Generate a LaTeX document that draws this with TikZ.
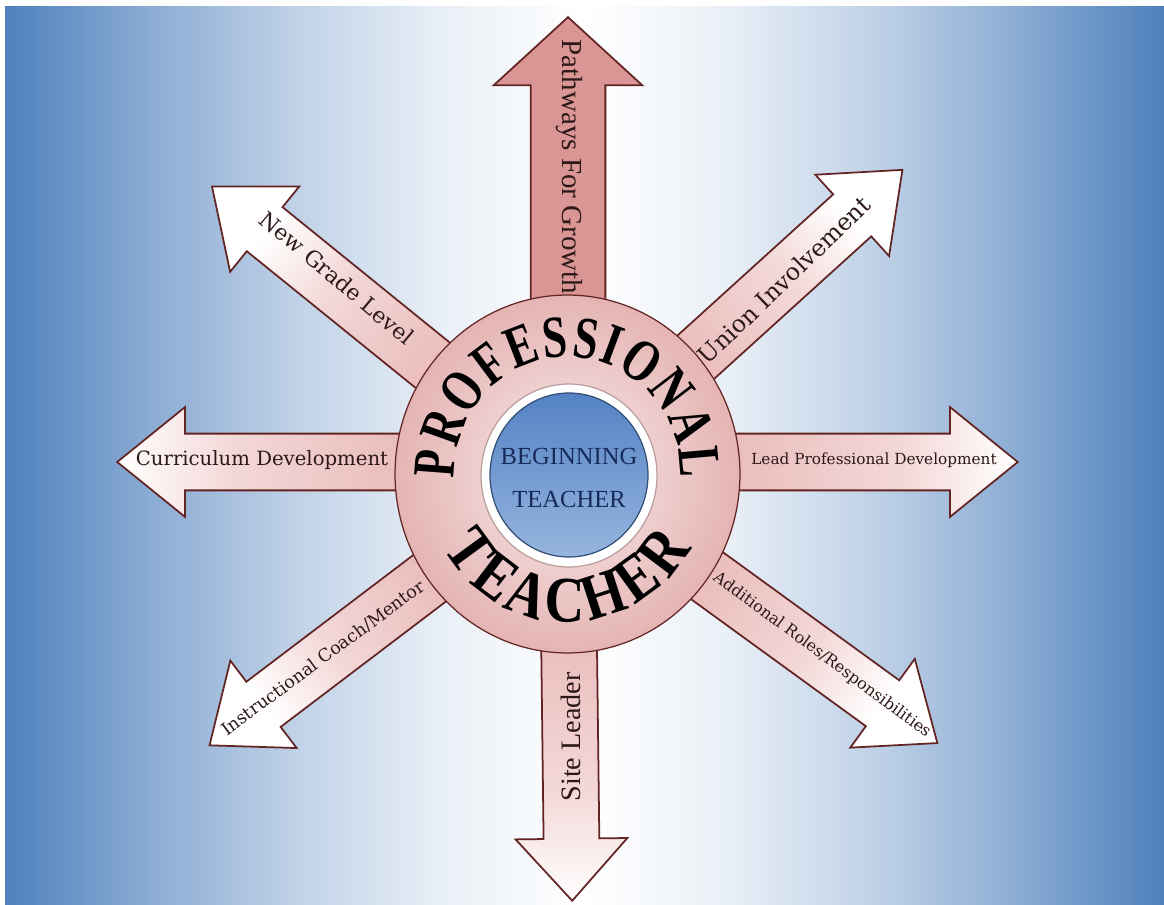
\documentclass[tikz,border=0pt]{standalone}
\usepackage{fontspec}
\setmainfont{DejaVu Serif}
\newfontfamily\timesfont{Liberation Serif}
\newfontfamily\archfont[FakeStretch=0.85]{Liberation Serif}
\newfontfamily\archnarrow[FakeStretch=0.74]{Liberation Serif}
\usetikzlibrary{shapes.arrows,shapes.geometric,decorations.text}

\definecolor{bgblue}{RGB}{79,129,189}
\colorlet{bgA}{bgblue!65!white}
\colorlet{bgB}{bgblue!35!white}
\colorlet{bgC}{bgblue!12!white}
\definecolor{rim}{RGB}{99,37,35}
\definecolor{spokeA}{RGB}{234,190,189}
\definecolor{spokeB}{RGB}{243,216,215}
\definecolor{growpink}{RGB}{217,150,148}
\definecolor{ringlight}{RGB}{250,236,236}
\definecolor{ringdark}{RGB}{228,180,179}
\definecolor{coreblue}{RGB}{84,130,196}
\definecolor{corelight}{RGB}{150,181,222}
\definecolor{navy}{RGB}{23,43,90}
\definecolor{labelink}{RGB}{45,25,25}

\pgfdeclarehorizontalshading{bgshade}{100bp}{color(0bp)=(bgblue); color(25bp)=(bgblue); color(31.5bp)=(bgA); color(37.75bp)=(bgB); color(44bp)=(bgC); color(50bp)=(white); color(56bp)=(bgC); color(62.25bp)=(bgB); color(68.5bp)=(bgA); color(75bp)=(bgblue); color(100bp)=(bgblue)}
\pgfdeclareverticalshading{spokeshade}{100bp}{color(0bp)=(spokeA); color(44bp)=(spokeA); color(62bp)=(spokeB); color(75bp)=(white); color(100bp)=(white)}

\begin{document}
\begin{tikzpicture}[x=0.02cm,y=0.02cm,
  spoke/.style={single arrow, draw=rim, line width=1pt, inner xsep=0pt, inner ysep=0.55cm,
    anchor=tail, single arrow head extend=0.53cm, single arrow tip angle=78},
  pale/.style={shading=spokeshade},
  disc/.style={ellipse, draw=rim, line width=0.7pt, inner sep=0pt},
  tag/.style={text=labelink, inner sep=0pt}]
\useasboundingbox (0,0) rectangle (1164,-905);
\fill[shading=bgshade] (5,-7) rectangle (1164,-905);

\coordinate (c) at (567,-474);
\coordinate (h) at (567,-462);

% spokes, tails hidden under the disc
\node[spoke, fill=growpink, inner ysep=0.73cm, single arrow head extend=0.74cm,
  single arrow tip angle=95, minimum height=9.12cm, rotate=90] (grow) at (568,-474) {};
\node[spoke, pale, inner ysep=0.54cm, single arrow head extend=0.56cm,
  single arrow tip angle=84, minimum height=8.52cm, rotate=-89.3, shading angle=180] (site) at (c) {};
\node[spoke, pale, minimum height=8.98cm, rotate=180, shading angle=90] (curr) at (h) {};
\node[spoke, pale, minimum height=9cm, shading angle=-90] (lead) at (h) {};
\node[spoke, pale, minimum height=9.12cm, rotate=141, shading angle=51] (grade) at (c) {};
\node[spoke, pale, minimum height=9.04cm, rotate=42.2, shading angle=-47.8] (union) at (c) {};
\node[spoke, pale, minimum height=9.14cm, rotate=-36, shading angle=-126] (roles) at (c) {};
\node[spoke, pale, minimum height=8.96cm, rotate=-142.8, shading angle=127.2] (coach) at (c) {};

% the hub
\node[disc, inner color=ringlight, outer color=ringdark,
  minimum width=6.9cm, minimum height=7.16cm] (pro) at (567.5,-474) {};
\node[disc, draw=rim!45, fill=white, minimum width=3.52cm, minimum height=3.66cm] (ring) at (569,-475.5) {};
\node[disc, draw=coreblue!60!black, top color=coreblue, bottom color=corelight,
  minimum width=3.16cm, minimum height=3.28cm] (core) at (569,-475) {};
\node[font=\timesfont\fontsize{14}{24}\selectfont, text=navy, align=center] (beg) at (569,-478) {BEGINNING\\TEACHER};

\path[decorate, decoration={text along path, text align=fit to path,
  text={|\archnarrow\bfseries\fontsize{34}{34}\selectfont|PROFESSIONAL}}]
  ([shift={(182:113 and 117)}]pro.center) arc[start angle=182, end angle=-2, x radius=113, y radius=117];
\path[decorate, decoration={text along path, text align=fit to path,
  text={|\archfont\bfseries\fontsize{37}{37}\selectfont|TEACHER}}]
  ([shift={(210:143 and 148)}]pro.center) arc[start angle=210, end angle=330, x radius=143, y radius=148];

% labels
\node[tag, font=\timesfont\fontsize{16.5}{18}\selectfont, rotate=-90] (growtxt) at (569,-167) {Pathways For Growth};
\node[tag, font=\timesfont\fontsize{16}{18}\selectfont, rotate=90] (sitetxt) at (571,-737) {Site Leader};
\node[tag, font=\fontsize{11.2}{13}\selectfont] (currtxt) at (262,-460) {Curriculum Development};
\node[tag, font=\fontsize{8.7}{10}\selectfont] (leadtxt) at (874,-460) {Lead Professional Development};
\node[tag, font=\fontsize{12.5}{14}\selectfont, rotate=-40] (gradetxt) at (337,-278) {New Grade Level};
\node[tag, font=\fontsize{13.5}{15}\selectfont, rotate=44] (uniontxt) at (784,-280) {Union Involvement};
\node[tag, font=\fontsize{9.1}{11}\selectfont, rotate=-36.5] (rolestxt) at (822,-655) {Additional Roles/Responsibilities};
\node[tag, font=\fontsize{10}{12}\selectfont, rotate=36.5] (coachtxt) at (323,-658) {Instructional Coach/Mentor};
\end{tikzpicture}
\end{document}
